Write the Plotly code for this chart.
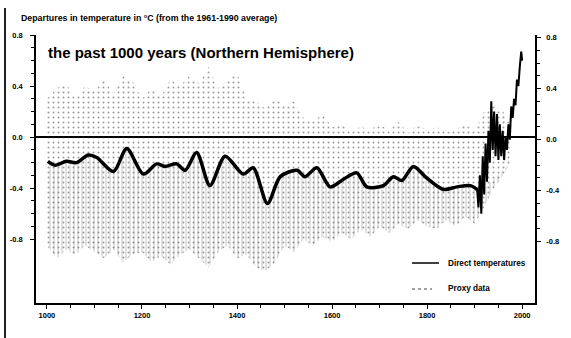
import plotly.graph_objects as go

# ---- data ----
smooth_years = [1002, 1017, 1041, 1062, 1087, 1105, 1140, 1168, 1203, 1231, 1248, 1273,
                1291, 1315, 1343, 1375, 1413, 1434, 1464, 1491, 1526, 1543, 1568, 1596,
                1624, 1652, 1673, 1708, 1729, 1747, 1771, 1799, 1834, 1863, 1891, 1912]
smooth_vals = [-0.19, -0.22, -0.19, -0.20, -0.14, -0.16, -0.27, -0.09, -0.29, -0.21, -0.23, -0.21,
               -0.26, -0.12, -0.38, -0.15, -0.29, -0.24, -0.52, -0.31, -0.26, -0.31, -0.24, -0.39,
               -0.33, -0.28, -0.39, -0.38, -0.31, -0.34, -0.23, -0.32, -0.41, -0.39, -0.38, -0.43]

proxy_years = [1000, 1020, 1040, 1060, 1080, 1100, 1120, 1140, 1160, 1180,
               1200, 1220, 1240, 1260, 1280, 1300, 1320, 1340, 1360, 1380,
               1400, 1420, 1440, 1460, 1480, 1500, 1520, 1540, 1560, 1580,
               1600, 1620, 1640, 1660, 1680, 1700, 1720, 1740, 1760, 1780,
               1800, 1820, 1840, 1860, 1880, 1900, 1920, 1940, 1960, 1975]
proxy_upper = [0.30, 0.38, 0.42, 0.30, 0.40, 0.36, 0.45, 0.34, 0.48, 0.44,
               0.30, 0.38, 0.32, 0.45, 0.40, 0.48, 0.42, 0.55, 0.38, 0.45,
               0.50, 0.30, 0.28, 0.22, 0.30, 0.25, 0.28, 0.15, 0.12, 0.18,
               0.08, 0.10, 0.05, 0.08, 0.06, 0.10, 0.05, 0.12, 0.03, 0.10,
               0.05, 0.08, 0.04, 0.06, 0.10, 0.05, 0.20, 0.25, 0.20, 0.10]
proxy_lower = [-0.85, -0.95, -0.88, -0.92, -0.85, -0.90, -0.95, -0.88, -0.98, -0.92,
               -0.90, -0.98, -0.93, -1.00, -0.92, -0.88, -0.95, -1.02, -0.90, -0.85,
               -0.95, -0.92, -1.02, -1.05, -0.98, -0.85, -0.90, -0.80, -0.85, -0.78,
               -0.82, -0.75, -0.80, -0.72, -0.78, -0.70, -0.75, -0.68, -0.72, -0.65,
               -0.70, -0.72, -0.65, -0.70, -0.62, -0.68, -0.55, -0.40, -0.30, -0.20]

direct_years = [1905, 1908, 1911, 1914, 1917, 1920, 1923, 1926, 1929, 1932, 1935, 1938,
                1941, 1944, 1947, 1950, 1953, 1956, 1959, 1962, 1965, 1968, 1971, 1974,
                1977, 1980, 1983, 1986, 1989, 1992, 1995, 1998, 2000]
direct_vals = [-0.40, -0.55, -0.30, -0.60, -0.15, -0.45, -0.05, -0.35, 0.05, -0.20, 0.28, -0.10,
               0.20, -0.15, 0.18, -0.18, 0.10, -0.15, 0.05, -0.18, 0.00, -0.10, 0.10, -0.02,
               0.24, 0.15, 0.30, 0.25, 0.45, 0.40, 0.55, 0.67, 0.60]

x_tick_vals = [1000, 1200, 1400, 1600, 1800, 2000]
x_tick_text = ["1000", "1200", "1400", "1600", "1800", "2000"]
y_tick_vals = [0.8, 0.4, 0.0, -0.4, -0.8]
y_tick_text = ["0.8", "0.4", "0.0", "-0.4", "-0.8"]
y_minor_vals = [0.7, 0.6, 0.5, 0.3, 0.2, 0.1, -0.1, -0.2, -0.3, -0.5, -0.6, -0.7]

title_text = "the past 1000 years (Northern Hemisphere)"
subtitle_text = "Departures in temperature in \u00b0C (from the 1961-1990 average)"
legend_direct = "Direct temperatures"
legend_proxy = "Proxy data"

FONT = "Liberation Sans, Arial, sans-serif"

L, R, T, B = 36, 535, 35, 303  # plot area in pixels
PW, PH = R - L, B - T


def px(xp):
    return (xp - L) / PW


def py(yp):
    return (B - yp) / PH


fig = go.Figure()

# sparse speckle band (whole proxy envelope)
fig.add_trace(go.Scatter(x=proxy_years, y=proxy_upper, mode="lines", line=dict(width=0),
                         showlegend=False, hoverinfo="skip"))
fig.add_trace(go.Scatter(x=proxy_years, y=proxy_lower, mode="lines", line=dict(width=0),
                         fill="tonexty", fillcolor="rgba(0,0,0,0)",
                         fillpattern=dict(shape=".", fgcolor="#333333", bgcolor="rgba(255,255,255,0)",
                                          size=5, solidity=0.12),
                         showlegend=False, hoverinfo="skip"))
# streaky, denser texture below the smoothed line
fig.add_trace(go.Scatter(x=smooth_years, y=smooth_vals, mode="lines", line=dict(width=0),
                         showlegend=False, hoverinfo="skip"))
fig.add_trace(go.Scatter(x=proxy_years, y=proxy_lower, mode="lines", line=dict(width=0),
                         fill="tonexty", fillcolor="rgba(0,0,0,0)",
                         fillpattern=dict(shape="|", fgcolor="#666666", bgcolor="rgba(255,255,255,0)",
                                          size=4, solidity=0.2),
                         showlegend=False, hoverinfo="skip"))

# direct temperatures
fig.add_trace(go.Scatter(x=direct_years, y=direct_vals, mode="lines",
                         line=dict(color="black", width=2),
                         showlegend=False, hoverinfo="skip"))
# smoothed curve
fig.add_trace(go.Scatter(x=smooth_years, y=smooth_vals, mode="lines",
                         line=dict(color="black", width=3.5, shape="spline", smoothing=0.8),
                         showlegend=False, hoverinfo="skip"))
# dummy trace for right axis
fig.add_trace(go.Scatter(x=[1000], y=[0], yaxis="y2", mode="markers",
                         marker=dict(opacity=0), showlegend=False, hoverinfo="skip"))

tickfont = dict(family=FONT, size=7.5, color="black", weight="bold")

fig.update_layout(
    width=571, height=338,
    margin=dict(l=L, r=571 - R, t=T, b=338 - B, autoexpand=False),
    paper_bgcolor="white", plot_bgcolor="white",
    showlegend=False,
    xaxis=dict(range=[977, 2027], tickvals=x_tick_vals, ticktext=x_tick_text, automargin=False,
               showgrid=False, zeroline=False, showline=True, linecolor="black", linewidth=1.5,
               ticks="outside", ticklen=4, tickcolor="black",
               minor=dict(dtick=50, tick0=1000, ticks="outside", ticklen=3, tickcolor="black", showgrid=False),
               tickfont=tickfont),
    yaxis=dict(range=[-1.30, 0.80], tickvals=y_tick_vals, ticktext=y_tick_text, automargin=False,
               showgrid=False, zeroline=True, zerolinecolor="black", zerolinewidth=1.5,
               showline=True, linecolor="black", linewidth=1.5,
               ticks="outside", ticklen=4, tickcolor="black", ticklabelstandoff=6,
               minor=dict(tickvals=y_minor_vals, ticks="outside", ticklen=3, tickcolor="black", showgrid=False),
               tickfont=tickfont),
    yaxis2=dict(range=[-1.28, 0.82], overlaying="y", side="right", tickvals=y_tick_vals, ticktext=y_tick_text,
                automargin=False,
                showgrid=False, zeroline=False, showline=True, linecolor="black", linewidth=1.5,
                ticks="outside", ticklen=4, tickcolor="black", ticklabelstandoff=4,
                minor=dict(tickvals=y_minor_vals, ticks="outside", ticklen=3, tickcolor="black", showgrid=False),
                tickfont=tickfont),
    annotations=[
        dict(text="<b>" + title_text + "</b>", x=px(46), y=py(52),
             xref="paper", yref="paper", xanchor="left", yanchor="middle", showarrow=False,
             font=dict(family=FONT, size=15, color="black")),
        dict(text="<b>" + subtitle_text + "</b>", x=px(19), y=py(18),
             xref="paper", yref="paper", xanchor="left", yanchor="middle", showarrow=False,
             font=dict(family=FONT, size=8.8, color="black")),
        dict(text="<b>" + legend_direct + "</b>", x=px(446), y=py(263),
             xref="paper", yref="paper", xanchor="left", yanchor="middle", showarrow=False,
             font=dict(family=FONT, size=8.2, color="black")),
        dict(text="<b>" + legend_proxy + "</b>", x=px(446), y=py(288),
             xref="paper", yref="paper", xanchor="left", yanchor="middle", showarrow=False,
             font=dict(family=FONT, size=8.2, color="black")),
    ],
    shapes=[
        dict(type="line", xref="paper", yref="paper", x0=px(412), x1=px(439),
             y0=py(263), y1=py(263), line=dict(color="black", width=1.5)),
        dict(type="line", xref="paper", yref="paper", x0=px(412), x1=px(432),
             y0=py(289), y1=py(289), line=dict(color="#444", width=1, dash="dot")),
        dict(type="line", xref="paper", yref="paper", x0=px(5), x1=px(5),
             y0=py(8), y1=py(338), line=dict(color="#222", width=2)),
    ],
)

fig.write_html("out.html", config={"displayModeBar": False},
               post_script="document.body.style.margin='0';")
